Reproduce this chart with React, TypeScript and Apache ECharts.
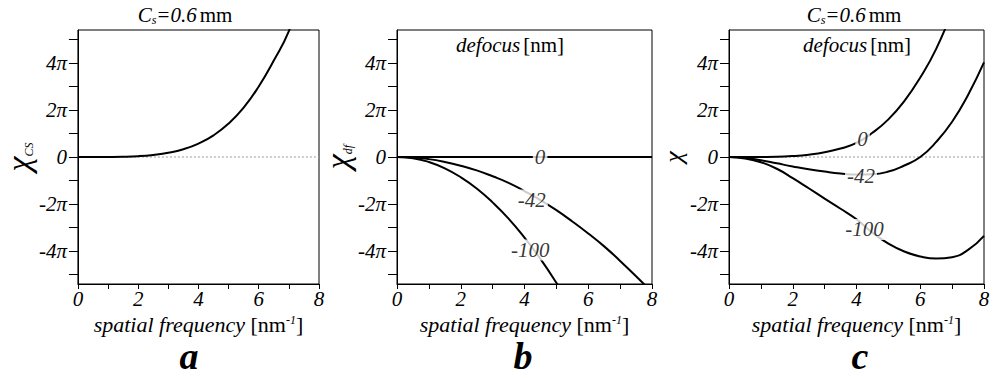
import React, { useEffect, useRef } from "react";
import * as echarts from "echarts";

// spatial frequency samples [nm^-1]
const K = [0, 0.5, 1, 1.5, 2, 2.5, 3, 3.5, 4, 4.5, 5, 5.5, 6, 6.5, 7, 7.5, 8];

// values are in units of pi
// panel a: spherical-aberration term, Cs = 0.6 mm
const chiCsA = [0, 0, 0.002, 0.01, 0.035, 0.09, 0.18, 0.33, 0.57, 0.92, 1.42, 2.1, 3.0, 4.1, 5.35, 7.2];
// panel b: defocus terms
const chiDf0 = [0, 0];
const chiDf0K = [0, 8];
const chiDf42 = [0, -0.02, -0.09, -0.21, -0.37, -0.57, -0.82, -1.1, -1.45, -1.83, -2.26, -2.74, -3.25, -3.8, -4.42, -5.07, -5.75];
const chiDf100 = [0, -0.05, -0.21, -0.48, -0.86, -1.34, -1.93, -2.62, -3.43, -4.33, -5.35, -6.47];
// panel c: total phase shift
const chiC0 = [0, 0, 0.003, 0.01, 0.04, 0.1, 0.2, 0.36, 0.6, 1.03, 1.6, 2.38, 3.38, 4.6, 6.2];
const chiC42 = [0, -0.03, -0.14, -0.27, -0.4, -0.52, -0.62, -0.7, -0.74, -0.73, -0.62, -0.36, 0.0, 0.64, 1.5, 2.64, 4.02];
const chiC100 = [0, -0.06, -0.22, -0.5, -0.9, -1.33, -1.77, -2.2, -2.65, -3.22, -3.68, -4.02, -4.23, -4.32, -4.26, -3.95, -3.35];

const defocusLabels = ["0", "-42", "-100"];
const xTickLabels = [0, 2, 4, 6, 8];
const yTickValues = [-5, -4, -3, -2, -1, 0, 1, 2, 3, 4, 5];
const yLabelValues = [-4, -2, 0, 2, 4];

// anchor points (data coords) of the in-line defocus labels
const LABEL_POS_B = [[4.49, 0], [4.23, -1.83], [4.18, -3.95]];
const LABEL_POS_C = [[4.19, 0.75], [4.14, -0.81], [4.25, -3.08]];

const FONT = "Liberation Serif";

const pairs = (ys: number[], xs: number[] = K) => ys.map((y, i) => [xs[i], y]);

const fmtPi = (v: number) => {
  if (v === 0) return "0";
  return (v < 0 ? "-" : "") + Math.abs(v) + "π";
};

const GRIDS = [
  { left: 65, top: 30, width: 254, height: 254 },
  { left: 397, top: 30, width: 255, height: 254 },
  { left: 729, top: 30, width: 255, height: 254 },
];

function xAxisCfg(gi: number) {
  return {
    type: "value",
    gridIndex: gi,
    min: 0,
    max: 8,
    interval: 1,
    axisLine: { show: true, onZero: false, lineStyle: { color: "#000", width: 1 } },
    axisTick: { show: true, inside: false, length: 5, lineStyle: { color: "#000", width: 1 } },
    axisLabel: {
      margin: 4,
      color: "#000",
      fontFamily: FONT,
      fontStyle: "italic",
      fontSize: 21,
      formatter: (v: number) => (xTickLabels.indexOf(v) >= 0 ? String(v) : ""),
    },
    splitLine: { show: false },
    name: "{it|spatial frequency} {rm|[nm}{sup|-1}{rm|]}",
    nameLocation: "middle",
    nameGap: 28,
    nameTextStyle: {
      color: "#000",
      fontFamily: FONT,
      fontSize: 22,
      rich: {
        it: { fontFamily: FONT, fontStyle: "italic", fontSize: 22, color: "#000" },
        rm: { fontFamily: FONT, fontStyle: "normal", fontSize: 22, color: "#000" },
        sup: { fontFamily: FONT, fontStyle: "italic", fontSize: 12, color: "#000", verticalAlign: "top" },
      },
    },
  };
}

function yAxisCfg(gi: number, name: string, chiSize: number, gap: number) {
  return {
    type: "value",
    gridIndex: gi,
    min: -5.4,
    max: 5.4,
    axisLine: { show: true, onZero: false, lineStyle: { color: "#000", width: 1 } },
    axisTick: {
      show: true,
      inside: false,
      length: 9,
      customValues: yTickValues,
      lineStyle: { color: "#000", width: 1 },
    },
    axisLabel: {
      customValues: yLabelValues,
      margin: 11,
      color: "#000",
      fontFamily: FONT,
      fontStyle: "italic",
      fontSize: 21,
      formatter: (v: number) => fmtPi(v),
    },
    splitLine: { show: false },
    name,
    nameLocation: "middle",
    nameRotate: 90,
    nameGap: gap,
    nameTextStyle: {
      color: "#000",
      fontFamily: FONT,
      rich: {
        chi: { fontFamily: FONT, fontStyle: "italic", fontSize: chiSize, color: "#000" },
        sub: { fontFamily: FONT, fontStyle: "italic", fontSize: 12, color: "#000", verticalAlign: "bottom" },
      },
    },
  };
}

const curve = (gi: number, data: number[][], width = 2) => ({
  type: "line",
  xAxisIndex: gi,
  yAxisIndex: gi,
  data,
  showSymbol: false,
  symbol: "none",
  smooth: 0.5,
  clip: true,
  z: 3,
  lineStyle: { color: "#000", width },
});

const zeroLine = (gi: number) => ({
  type: "line",
  xAxisIndex: gi,
  yAxisIndex: gi,
  data: pairs(chiDf0, chiDf0K),
  showSymbol: false,
  symbol: "none",
  z: 2,
  lineStyle: { color: "#999", width: 1, type: [2, 2] },
});

const curveLabels = (gi: number, pos: number[][]) => ({
  type: "scatter",
  xAxisIndex: gi,
  yAxisIndex: gi,
  symbolSize: 1,
  itemStyle: { color: "rgba(0,0,0,0)" },
  z: 5,
  data: pos.map((p, i) => ({ value: p, name: defocusLabels[i] })),
  label: {
    show: true,
    position: "inside",
    formatter: "{b}",
    fontFamily: FONT,
    fontStyle: "italic",
    fontSize: 21,
    color: "#000",
    textBorderWidth: 0,
    textBorderColor: "transparent",
    backgroundColor: "#fff",
    padding: [0, 2],
  },
  labelLayout: { hideOverlap: false },
});

const titleText = (x: number) => ({
  type: "text",
  x,
  y: 15,
  style: {
    text: "{it|C}{sub|s}{it|=0.6} {rm|mm}",
    align: "center",
    verticalAlign: "middle",
    fontFamily: FONT,
    rich: {
      it: { fontFamily: FONT, fontStyle: "italic", fontSize: 21, fill: "#000" },
      sub: { fontFamily: FONT, fontStyle: "italic", fontSize: 12, fill: "#000", verticalAlign: "bottom" },
      rm: { fontFamily: FONT, fontSize: 21, fill: "#000" },
    },
  },
});

const defocusText = (x: number) => ({
  type: "text",
  x,
  y: 45,
  style: {
    text: "{it|defocus} {rm|[nm]}",
    align: "center",
    verticalAlign: "middle",
    fontFamily: FONT,
    rich: {
      it: { fontFamily: FONT, fontStyle: "italic", fontSize: 21, fill: "#000" },
      rm: { fontFamily: FONT, fontSize: 21, fill: "#000" },
    },
  },
});

const letter = (x: number, t: string) => ({
  type: "text",
  x,
  y: 356,
  style: {
    text: t,
    align: "center",
    verticalAlign: "middle",
    fontFamily: FONT,
    fontStyle: "italic",
    fontWeight: "bold",
    fontSize: 38,
    fill: "#000",
  },
});

export default function App() {
  const ref = useRef<HTMLDivElement>(null);
  useEffect(() => {
    if (!ref.current) return;
    const chart = echarts.init(ref.current, null, { renderer: "svg" });
    chart.setOption({
      animation: false,
      backgroundColor: "#fff",
      textStyle: { fontFamily: FONT },
      grid: GRIDS.map((g) => ({ ...g, show: true, borderColor: "#000", borderWidth: 1, containLabel: false })),
      xAxis: [xAxisCfg(0), xAxisCfg(1), xAxisCfg(2)],
      yAxis: [
        yAxisCfg(0, "{chi|χ}{sub|CS}", 34, 35),
        yAxisCfg(1, "{chi|χ}{sub|df}", 34, 35),
        yAxisCfg(2, "{chi|χ}", 26, 34),
      ],
      series: [
        zeroLine(0),
        curve(0, pairs(chiCsA)),
        curve(1, pairs(chiDf0, chiDf0K), 2.2),
        curve(1, pairs(chiDf42)),
        curve(1, pairs(chiDf100)),
        curveLabels(1, LABEL_POS_B),
        zeroLine(2),
        curve(2, pairs(chiC0)),
        curve(2, pairs(chiC42)),
        curve(2, pairs(chiC100)),
        curveLabels(2, LABEL_POS_C),
      ],
      graphic: [
        titleText(185),
        titleText(854),
        defocusText(510),
        defocusText(857),
        letter(189, "a"),
        letter(523, "b"),
        letter(860, "c"),
      ],
    });
    return () => chart.dispose();
  }, []);
  return <div ref={ref} style={{ position: "fixed", left: 0, top: 0, width: 993, height: 378 }} />;
}
